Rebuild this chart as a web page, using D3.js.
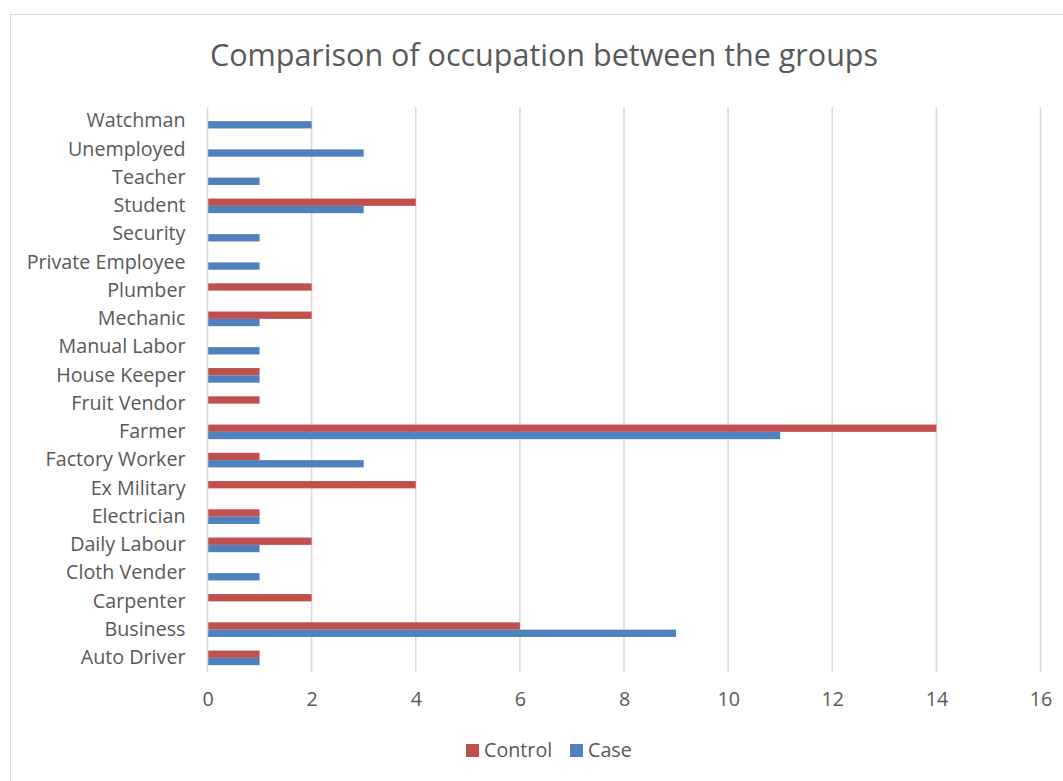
<!DOCTYPE html>
<html>
<head>
<meta charset="utf-8">
<script src="https://cdn.jsdelivr.net/npm/d3@7"></script>
<style>
  html, body { margin: 0; padding: 0; background: #fff; }
  svg { display: block; }
  text { font-family: "Open Sans", Lato, sans-serif; fill: #595959; }
</style>
</head>
<body>
<svg id="chart" width="1063" height="781"></svg>
<script>
// Occupations, listed bottom to top as on the category axis
const categories = [
  "Auto Driver", "Business", "Carpenter", "Cloth Vender", "Daily Labour",
  "Electrician", "Ex Military", "Factory Worker", "Farmer", "Fruit Vendor",
  "House Keeper", "Manual Labor", "Mechanic", "Plumber", "Private Employee",
  "Security", "Student", "Teacher", "Unemployed", "Watchman"
];
const controlValues = [1, 6, 2, 0, 2, 1, 4, 1, 14, 1, 1, 0, 2, 2, 0, 0, 4, 0, 0, 0];
const caseValues    = [1, 9, 0, 1, 1, 1, 0, 3, 11, 0, 1, 1, 1, 0, 1, 1, 3, 1, 3, 2];
const seriesNames = ["Control", "Case"];
const xTicks = [0, 2, 4, 6, 8, 10, 12, 14, 16];

const colors = { Control: "#C0504D", Case: "#4F81BD" };
const FONT = "'Open Sans', Lato, sans-serif";
const LABEL_SIZE = 19.7;

const svg = d3.select("#chart");
const W = 1063, H = 781;
const plot = { left: 207.5, right: 1040.5, top: 107, bottom: 672 };

// Chart frame
svg.append("rect")
  .attr("x", 10.5).attr("y", 14.5)
  .attr("width", W + 20).attr("height", H + 20)
  .attr("fill", "#fff").attr("stroke", "#d9d9d9").attr("stroke-width", 1);

// Title
svg.append("text")
  .attr("x", 544).attr("y", 66)
  .attr("text-anchor", "middle")
  .attr("font-size", 30.5)
  .text("Comparison of occupation between the groups");

const x = d3.scaleLinear().domain([0, 16]).range([plot.left, plot.right]);
const y = d3.scaleBand()
  .domain(categories.slice().reverse())
  .range([plot.top, plot.bottom])
  .paddingInner(0.482).paddingOuter(0.241);
const ySub = d3.scaleBand().domain(seriesNames).range([0, y.bandwidth()]);

// Vertical gridlines
svg.append("g")
  .selectAll("line")
  .data(xTicks.slice(1))
  .join("line")
  .attr("x1", d => x(d)).attr("x2", d => x(d))
  .attr("y1", plot.top).attr("y2", plot.bottom)
  .attr("stroke", "#d9d9d9").attr("stroke-width", 1.5);

// Bars
const rows = categories.map((c, i) => ({ c, Control: controlValues[i], Case: caseValues[i] }));
const groups = svg.append("g")
  .selectAll("g")
  .data(rows)
  .join("g")
  .attr("transform", d => `translate(0,${y(d.c)})`);

groups.selectAll("rect")
  .data(d => seriesNames.map(s => ({ s, v: d[s] })).filter(e => e.v > 0))
  .join("rect")
  .attr("x", x(0))
  .attr("y", d => ySub(d.s))
  .attr("width", d => x(d.v) - x(0))
  .attr("height", ySub.bandwidth())
  .attr("fill", d => colors[d.s]);

// Category axis line
svg.append("line")
  .attr("x1", x(0)).attr("x2", x(0))
  .attr("y1", plot.top).attr("y2", plot.bottom)
  .attr("stroke", "#d9d9d9").attr("stroke-width", 1.5);

// Category labels
const yAxis = d3.axisLeft(y).tickSize(0).tickPadding(22);
const gy = svg.append("g").attr("transform", `translate(${x(0)},0)`).call(yAxis);
gy.select(".domain").remove();
gy.selectAll("text")
  .attr("font-size", LABEL_SIZE)
  .attr("fill", "#595959")
  .style("font-family", FONT);

// Value axis labels
const xAxis = d3.axisBottom(x).tickValues(xTicks).tickSize(0).tickPadding(20);
const gx = svg.append("g").attr("transform", `translate(0,${plot.bottom})`).call(xAxis);
gx.select(".domain").remove();
gx.selectAll("text")
  .attr("font-size", LABEL_SIZE)
  .attr("fill", "#595959")
  .style("font-family", FONT);

// Legend
const legend = svg.append("g");
const legendItems = [
  { name: "Control", x: 466 },
  { name: "Case", x: 570 }
];
legendItems.forEach(item => {
  legend.append("rect")
    .attr("x", item.x).attr("y", 744)
    .attr("width", 13).attr("height", 13)
    .attr("fill", colors[item.name]);
  legend.append("text")
    .attr("x", item.x + 18).attr("y", 757)
    .attr("font-size", LABEL_SIZE)
    .text(item.name);
});
</script>
</body>
</html>
